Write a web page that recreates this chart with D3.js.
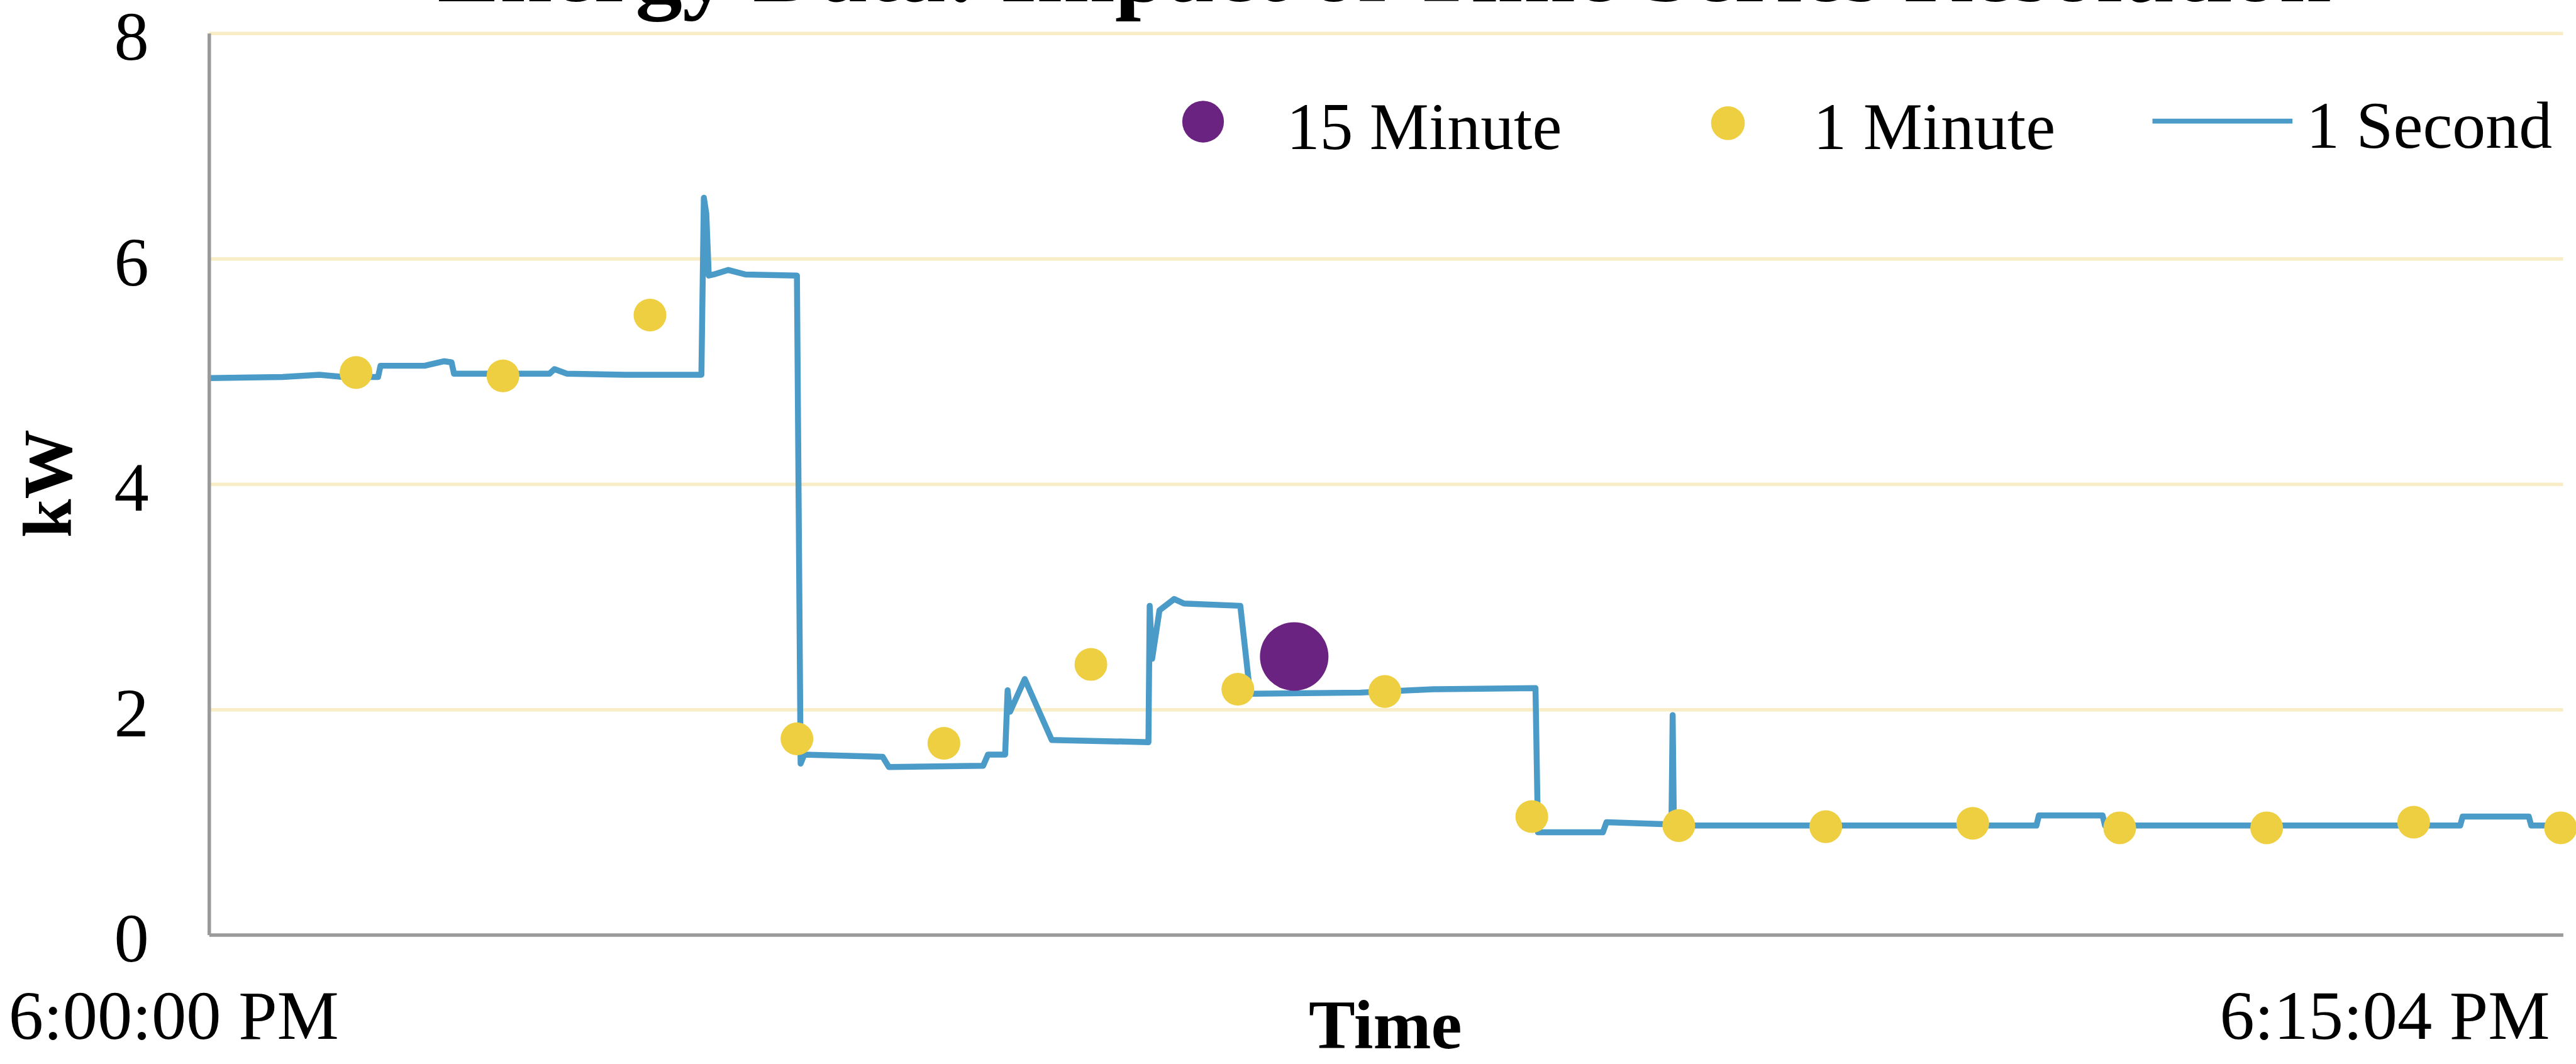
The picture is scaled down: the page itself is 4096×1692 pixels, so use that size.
<!DOCTYPE html>
<html>
<head>
<meta charset="utf-8">
<script src="https://cdn.jsdelivr.net/npm/d3@7"></script>
<style>
  html, body { margin: 0; padding: 0; background: #ffffff; overflow: hidden; }
  svg { display: block; }
  text { font-family: "Liberation Serif", "Times New Roman", serif; fill: #000; }
</style>
</head>
<body>
<div id="chart"></div>
<script>
// ---------------- DATA ----------------
const titleText = "Energy Data: Impact of Time Series Resolution";
const yTicks = [0, 2, 4, 6, 8];
const xTickValues = [0, 961];            // seconds from 6:00:00 PM
const xTickLabels = ["6:00:00 PM", "6:15:04 PM"];
const seriesNames = ["15 Minute", "1 Minute", "1 Second"];

// 1-second series (time in seconds, kW)
const secTime = [0, 30, 45, 55, 69, 70, 88, 96, 99, 100, 139, 141, 146, 170, 201,
  202, 203, 204, 206, 212, 219, 240, 241.5, 243, 275, 277.5, 316, 318, 325,
  326, 327, 333, 344, 383.5, 384, 385, 388, 394, 398, 421, 425, 470, 500,
  541.5, 542.5, 569, 570.5, 597, 597.5, 598, 746, 747, 773, 774, 919, 920,
  947, 948, 961];
const secKW = [4.94, 4.95, 4.97, 4.95, 4.95, 5.05, 5.05, 5.09, 5.08, 4.98, 4.98, 5.02, 4.98, 4.97, 4.97,
  6.54, 6.40, 5.85, 5.86, 5.90, 5.86, 5.85, 1.52, 1.60, 1.58, 1.49, 1.50, 1.60, 1.60,
  2.17, 1.98, 2.27, 1.73, 1.71, 2.92, 2.45, 2.88, 2.98, 2.94, 2.92, 2.14, 2.15, 2.18,
  2.19, 0.91, 0.91, 1.00, 0.98, 1.95, 0.97, 0.97, 1.06, 1.06, 0.97, 0.97, 1.05,
  1.05, 0.97, 0.97];

// 1-minute series
const minTime = [60, 120, 180, 240, 300, 360, 420, 480, 540, 600, 660, 720, 780, 840, 900, 960];
const minKW = [4.99, 4.96, 5.50, 1.74, 1.70, 2.40, 2.18, 2.16, 1.05, 0.97, 0.96, 0.99, 0.95, 0.95, 1.00, 0.95];

// 15-minute series
const q15Time = [443];
const q15KW = [2.47];

// ---------------- LAYOUT (reference pixel space, scaled by viewBox) ----------------
const W = 5188, H = 2143;
const plotL = 421, plotR = 5162, plotT = 67, plotB = 1883;
const colors = { purple: "#6B2381", yellow: "#EFCF42", blue: "#4B9BC9", grid: "#F8EDC6", axis: "#9A9A9A" };

const svg = d3.select("#chart").append("svg")
  .attr("width", 4096).attr("height", 1692)
  .attr("viewBox", `0 0 ${W} ${H}`);

const x = d3.scaleLinear().domain([0, 961]).range([plotL, plotR]);
const y = d3.scaleLinear().domain([0, 8]).range([plotB, plotT]);

// gridlines
const grid = svg.append("g").attr("transform", `translate(${plotL},0)`)
  .call(d3.axisLeft(y).tickValues(yTicks.filter(d => d > 0)).tickSize(-(plotR - plotL)).tickFormat(""));
grid.select(".domain").remove();
grid.selectAll("line").attr("stroke", colors.grid).attr("stroke-width", 7);

// title (clipped at top as in reference)
svg.append("text").attr("x", 2788).attr("y", 3)
  .attr("text-anchor", "middle").attr("font-weight", "bold").attr("font-size", 189)
  .text(titleText);

// 1-second line
const line = d3.line().x((d, i) => x(secTime[i])).y((d, i) => y(secKW[i]));
svg.append("path").datum(secKW)
  .attr("d", line).attr("fill", "none")
  .attr("stroke", colors.blue).attr("stroke-width", 12).attr("stroke-linejoin", "round");

// 1-minute dots
svg.append("g").selectAll("circle").data(minKW).join("circle")
  .attr("cx", (d, i) => x(minTime[i])).attr("cy", d => y(d))
  .attr("r", 33).attr("fill", colors.yellow);

// 15-minute dot
svg.append("g").selectAll("circle").data(q15KW).join("circle")
  .attr("cx", (d, i) => x(q15Time[i])).attr("cy", d => y(d))
  .attr("r", 69).attr("fill", colors.purple);

// y axis
const yAxis = svg.append("g").attr("transform", `translate(${plotL},0)`)
  .call(d3.axisLeft(y).tickValues(yTicks).tickSize(0).tickSizeOuter(0));
yAxis.select(".domain").attr("stroke", colors.axis).attr("stroke-width", 7);
yAxis.selectAll("text").attr("x", -121).attr("dy", "0.38em")
  .attr("font-size", 140).attr("font-family", "Liberation Serif, Times New Roman, serif").attr("fill", "#000");

// x axis
const xAxis = svg.append("g").attr("transform", `translate(0,${plotB})`)
  .call(d3.axisBottom(x).tickValues(xTickValues).tickFormat((d, i) => xTickLabels[i]).tickSize(0).tickSizeOuter(0));
xAxis.select(".domain").attr("stroke", colors.axis).attr("stroke-width", 7);
xAxis.selectAll("text").attr("y", 209).attr("dy", 0)
  .attr("font-size", 140).attr("font-family", "Liberation Serif, Times New Roman, serif").attr("fill", "#000")
  .attr("text-anchor", (d, i) => i === 0 ? "start" : "end")
  .attr("x", (d, i) => i === 0 ? 17 - x(d) : 5135 - x(d));

// axis titles
svg.append("text").attr("transform", "translate(143,974) rotate(-90)")
  .attr("text-anchor", "middle").attr("font-weight", "bold").attr("font-size", 140).text("kW");
svg.append("text").attr("x", 2790).attr("y", 2112)
  .attr("text-anchor", "middle").attr("font-weight", "bold").attr("font-size", 140).text("Time");

// legend
const lg = svg.append("g");
lg.append("circle").attr("cx", 2423).attr("cy", 245).attr("r", 42).attr("fill", colors.purple);
lg.append("text").attr("x", 2591).attr("y", 300).attr("font-size", 134).text(seriesNames[0]);
lg.append("circle").attr("cx", 3480).attr("cy", 248).attr("r", 34).attr("fill", colors.yellow);
lg.append("text").attr("x", 3652).attr("y", 300).attr("font-size", 134).text(seriesNames[1]);
lg.append("line").attr("x1", 4335).attr("x2", 4617).attr("y1", 244).attr("y2", 244)
  .attr("stroke", colors.blue).attr("stroke-width", 10);
lg.append("text").attr("x", 4645).attr("y", 297).attr("font-size", 134).text(seriesNames[2]);
</script>
</body>
</html>
